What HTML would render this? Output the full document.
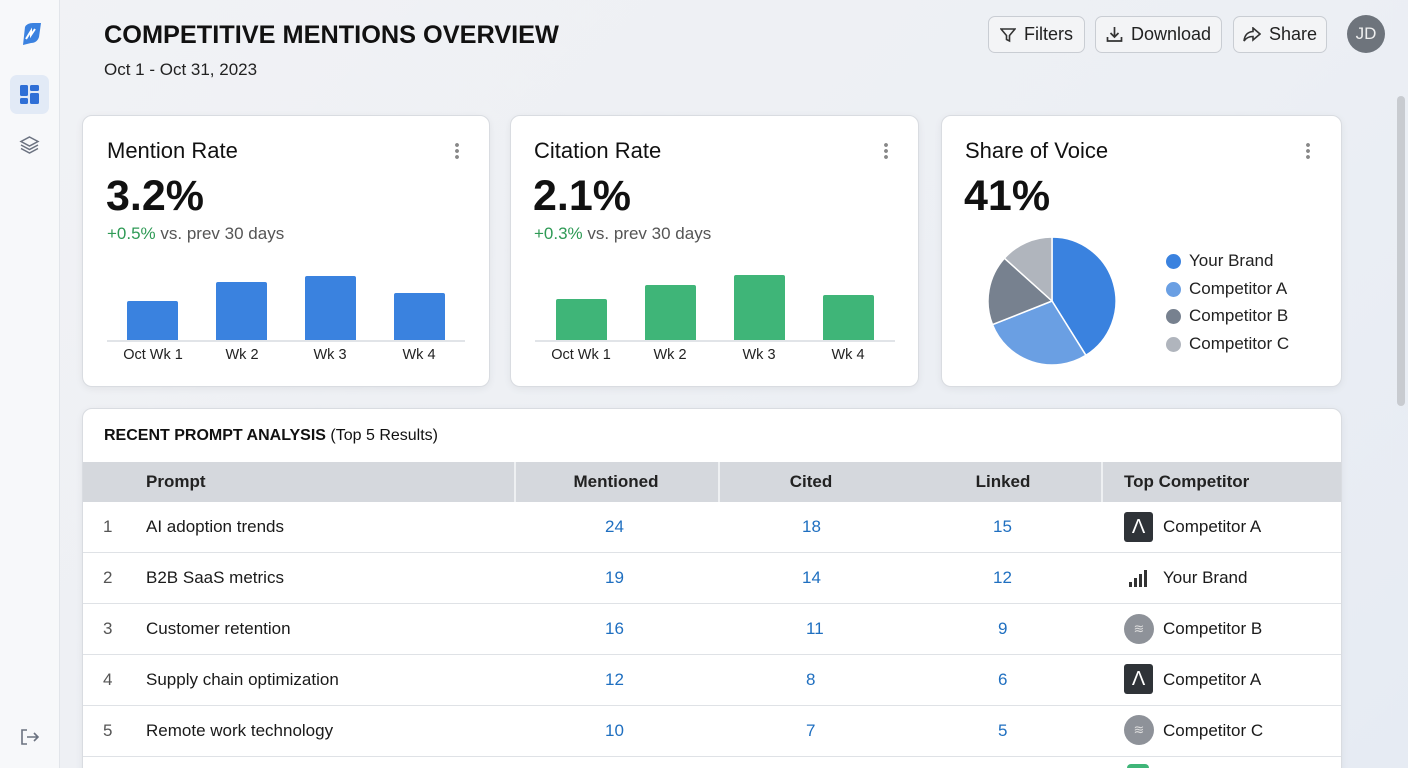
<!DOCTYPE html><html><head><meta charset="utf-8"><style>
*{box-sizing:border-box;margin:0;padding:0}
html{width:1408px;height:768px;overflow:hidden}
body{width:1408px;height:768px;overflow:hidden;font-family:"Liberation Sans",sans-serif;background:linear-gradient(135deg,#f1f2f5 0%,#eceff4 60%,#e6ebf3 100%);position:relative;color:#1a1a1a}
.abs{position:absolute}
.side{left:0;top:0;width:60px;height:768px;background:#f7f8fa;border-right:1px solid #e2e5ea}
.card{background:#fff;border:1px solid #d9dce1;border-radius:10px;box-shadow:0 2px 8px rgba(0,0,0,.06)}
.btn{top:16px;height:37px;border:1px solid #c9cdd3;border-radius:7px;background:#f3f4f6;font-size:18px;color:#222;display:flex;align-items:center;justify-content:center;gap:8px}
.ct{font-size:22px;color:#111}
.big{font-size:43px;font-weight:bold;color:#111}
.sub{font-size:17px;color:#555}
.sub b{color:#2e9a55;font-weight:normal}
.dots{width:4px;height:18px;background:radial-gradient(circle,#888 1.8px,transparent 2px) 0 0/4px 6px repeat-y}
.lbl{font-size:14.5px;color:#222;text-align:center;width:80px}
.leg{font-size:17px;color:#222}
.leg i{position:absolute;left:-23px;top:3px;width:15px;height:15px;border-radius:50%}
.row{left:83px;width:1258px;height:51px;border-bottom:1.5px solid #dfe2e6;font-size:17px}
.row span{position:absolute;top:15px}
.n{color:#1f6fc0}
</style></head><body>
<div class="abs side"></div>
<svg class="abs" style="left:17px;top:21px" width="26" height="26" viewBox="0 0 26 26"><path d="M6 24 L8 6 Q10 2 16 2 L24 2 L22 16 Q20 22 14 22 Z" fill="#3b82e0"/><path d="M9 18 L14 10 L14 14 L18 8" stroke="#fff" stroke-width="2" fill="none"/></svg>
<div class="abs" style="left:10px;top:75px;width:39px;height:39px;background:#e2eaf6;border-radius:7px"></div>
<svg class="abs" style="left:20px;top:85px" width="19" height="19"><rect x="0" y="0" width="8" height="11" rx="1.5" fill="#2f6fd6"/><rect x="0" y="13" width="8" height="6" rx="1.5" fill="#2f6fd6"/><rect x="10" y="0" width="9" height="6" rx="1.5" fill="#2f6fd6"/><rect x="10" y="8" width="9" height="11" rx="1.5" fill="#2f6fd6"/></svg>
<svg class="abs" style="left:19px;top:135px" width="21" height="20" fill="none" stroke="#6b7280" stroke-width="1.5"><path d="M10.5 2 L19 6.5 L10.5 11 L2 6.5Z"/><path d="M2 10 L10.5 14.5 L19 10"/><path d="M2 13.5 L10.5 18 L19 13.5"/></svg>
<svg class="abs" style="left:20px;top:728px" width="20" height="18" fill="none" stroke="#6b7280" stroke-width="1.6"><path d="M7 2 H2 V16 H7"/><path d="M7 9 H18 M14 5 L18 9 L14 13"/></svg>

<div class="abs" style="left:104px;top:21px;font-size:25.3px;font-weight:bold;color:#111">COMPETITIVE MENTIONS OVERVIEW</div>
<div class="abs" style="left:104px;top:60px;font-size:17px;color:#222">Oct 1 - Oct 31, 2023</div>
<div class="abs btn" style="left:988px;width:97px"><svg width="16" height="16" fill="none" stroke="#333" stroke-width="1.6"><path d="M1 2 H15 L9.5 8.5 V14 L6.5 12.5 V8.5Z"/></svg>Filters</div>
<div class="abs btn" style="left:1095px;width:127px"><svg width="17" height="17" fill="none" stroke="#333" stroke-width="1.7"><path d="M8.5 1 V11 M4.5 7 L8.5 11 L12.5 7 M1.5 11 V15 H15.5 V11"/></svg>Download</div>
<div class="abs btn" style="left:1233px;width:94px"><svg width="18" height="15" fill="none" stroke="#333" stroke-width="1.6"><path d="M10 1 L17 7 L10 13 V9.5 Q4 9.5 1 14 Q2 5 10 4.5Z"/></svg>Share</div>
<div class="abs" style="left:1347px;top:15px;width:38px;height:38px;border-radius:50%;background:#6e747c;color:#f0f0f0;font-size:17px;display:flex;align-items:center;justify-content:center">JD</div>
<div class="abs" style="left:1397px;top:96px;width:8px;height:310px;background:#c8cbd0;border-radius:4px"></div>

<div class="abs card" style="left:82px;top:115px;width:408px;height:272px"></div>
<div class="abs ct" style="left:107px;top:138px">Mention Rate</div>
<div class="abs dots" style="left:455px;top:142px"></div>
<div class="abs big" style="left:106px;top:172px">3.2%</div>
<div class="abs sub" style="left:107px;top:224px"><b>+0.5%</b> vs. prev 30 days</div>
<div class="abs" style="left:127px;top:301px;width:51px;height:40px;background:#3a82df;border-radius:2px 2px 0 0"></div>
<div class="abs" style="left:216px;top:282px;width:51px;height:59px;background:#3a82df;border-radius:2px 2px 0 0"></div>
<div class="abs" style="left:305px;top:276px;width:51px;height:65px;background:#3a82df;border-radius:2px 2px 0 0"></div>
<div class="abs" style="left:394px;top:293px;width:51px;height:48px;background:#3a82df;border-radius:2px 2px 0 0"></div>
<div class="abs" style="left:107px;top:340px;width:358px;height:2px;background:#e1e4e8"></div>
<div class="abs lbl" style="left:113px;top:347px">Oct Wk 1</div>
<div class="abs lbl" style="left:202px;top:347px">Wk 2</div>
<div class="abs lbl" style="left:290px;top:347px">Wk 3</div>
<div class="abs lbl" style="left:379px;top:347px">Wk 4</div>

<div class="abs card" style="left:510px;top:115px;width:409px;height:272px"></div>
<div class="abs ct" style="left:534px;top:138px">Citation Rate</div>
<div class="abs dots" style="left:884px;top:142px"></div>
<div class="abs big" style="left:533px;top:172px">2.1%</div>
<div class="abs sub" style="left:534px;top:224px"><b>+0.3%</b> vs. prev 30 days</div>
<div class="abs" style="left:556px;top:299px;width:51px;height:42px;background:#3fb578;border-radius:2px 2px 0 0"></div>
<div class="abs" style="left:645px;top:285px;width:51px;height:56px;background:#3fb578;border-radius:2px 2px 0 0"></div>
<div class="abs" style="left:734px;top:275px;width:51px;height:66px;background:#3fb578;border-radius:2px 2px 0 0"></div>
<div class="abs" style="left:823px;top:295px;width:51px;height:46px;background:#3fb578;border-radius:2px 2px 0 0"></div>
<div class="abs" style="left:535px;top:340px;width:360px;height:2px;background:#e1e4e8"></div>
<div class="abs lbl" style="left:541px;top:347px">Oct Wk 1</div>
<div class="abs lbl" style="left:630px;top:347px">Wk 2</div>
<div class="abs lbl" style="left:719px;top:347px">Wk 3</div>
<div class="abs lbl" style="left:808px;top:347px">Wk 4</div>

<div class="abs card" style="left:941px;top:115px;width:401px;height:272px"></div>
<div class="abs ct" style="left:965px;top:138px">Share of Voice</div>
<div class="abs dots" style="left:1306px;top:142px"></div>
<div class="abs big" style="left:964px;top:172px">41%</div>
<svg class="abs" style="left:986px;top:235px" width="132" height="132" viewBox="-66 -66 132 132">
<g stroke="#fff" stroke-width="1.5">
<path d="M0 0 L0 -64 A64 64 0 0 1 33.9 54.3Z" fill="#3a82df"/>
<path d="M0 0 L33.9 54.3 A64 64 0 0 1 -59.5 23.6Z" fill="#6a9fe3"/>
<path d="M0 0 L-59.5 23.6 A64 64 0 0 1 -47.6 -42.8Z" fill="#77818f"/>
<path d="M0 0 L-47.6 -42.8 A64 64 0 0 1 0 -64Z" fill="#b0b5bd"/>
</g></svg>
<div class="abs leg" style="left:1189px;top:251px"><i style="background:#3a82df"></i>Your Brand</div>
<div class="abs leg" style="left:1189px;top:279px"><i style="background:#6a9fe3"></i>Competitor A</div>
<div class="abs leg" style="left:1189px;top:306px"><i style="background:#77818f"></i>Competitor B</div>
<div class="abs leg" style="left:1189px;top:334px"><i style="background:#b0b5bd"></i>Competitor C</div>

<div class="abs card" style="left:82px;top:408px;width:1260px;height:380px"></div>
<div class="abs" style="left:104px;top:427px;font-size:16px;color:#111"><b>RECENT PROMPT ANALYSIS</b> (Top 5 Results)</div>
<div class="abs" style="left:83px;top:462px;width:1258px;height:40px;background:#d5d8dd;font-size:17px;font-weight:bold;color:#222">
<span class="abs" style="left:63px;top:10px">Prompt</span>
<span class="abs" style="left:533px;top:10px;width:0;display:flex;justify-content:center;white-space:nowrap">Mentioned</span>
<span class="abs" style="left:728px;top:10px;width:0;display:flex;justify-content:center">Cited</span>
<span class="abs" style="left:920px;top:10px;width:0;display:flex;justify-content:center">Linked</span>
<span class="abs" style="left:1041px;top:10px">Top Competitor</span>
<div class="abs" style="left:431px;top:0;width:1.5px;height:40px;background:#eef0f2"></div>
<div class="abs" style="left:635px;top:0;width:1.5px;height:40px;background:#eef0f2"></div>
<div class="abs" style="left:1018px;top:0;width:1.5px;height:40px;background:#eef0f2"></div>
</div>

<div class="abs row" style="top:502px"><span style="left:20px;color:#555">1</span><span style="left:63px">AI adoption trends</span><span class="n" style="left:522px">24</span><span class="n" style="left:719px">18</span><span class="n" style="left:910px">15</span><div class="abs" style="left:1041px;top:10px;width:29px;height:30px;background:#2f3338;border-radius:3px;color:#fff;font-size:20px;text-align:center;line-height:30px">Λ</div><span style="left:1080px">Competitor A</span></div>
<div class="abs row" style="top:553px"><span style="left:20px;color:#555">2</span><span style="left:63px">B2B SaaS metrics</span><span class="n" style="left:522px">19</span><span class="n" style="left:719px">14</span><span class="n" style="left:910px">12</span><svg class="abs" style="left:1046px;top:16px" width="20" height="18"><rect x="0" y="13" width="3" height="5" fill="#333"/><rect x="5" y="9" width="3" height="9" fill="#333"/><rect x="10" y="5" width="3" height="13" fill="#333"/><rect x="15" y="1" width="3" height="17" fill="#333"/></svg><span style="left:1080px">Your Brand</span></div>
<div class="abs row" style="top:604px"><span style="left:20px;color:#555">3</span><span style="left:63px">Customer retention</span><span class="n" style="left:522px">16</span><span class="n" style="left:723px">11</span><span class="n" style="left:915px">9</span><div class="abs" style="left:1041px;top:10px;width:30px;height:30px;background:#8e9299;border-radius:50%;color:#ddd;font-size:13px;text-align:center;line-height:30px">≋</div><span style="left:1080px">Competitor B</span></div>
<div class="abs row" style="top:655px"><span style="left:20px;color:#555">4</span><span style="left:63px">Supply chain optimization</span><span class="n" style="left:522px">12</span><span class="n" style="left:723px">8</span><span class="n" style="left:915px">6</span><div class="abs" style="left:1041px;top:9px;width:29px;height:30px;background:#2f3338;border-radius:3px;color:#fff;font-size:20px;text-align:center;line-height:30px">Λ</div><span style="left:1080px">Competitor A</span></div>
<div class="abs row" style="top:706px"><span style="left:20px;color:#555">5</span><span style="left:63px">Remote work technology</span><span class="n" style="left:522px">10</span><span class="n" style="left:723px">7</span><span class="n" style="left:915px">5</span><div class="abs" style="left:1041px;top:9px;width:30px;height:30px;background:#8e9299;border-radius:50%;color:#ddd;font-size:13px;text-align:center;line-height:30px">≋</div><span style="left:1080px">Competitor C</span></div>
<div class="abs" style="left:1127px;top:764px;width:22px;height:4px;border-radius:11px 11px 0 0;background:#3fb578"></div>
</body></html>
